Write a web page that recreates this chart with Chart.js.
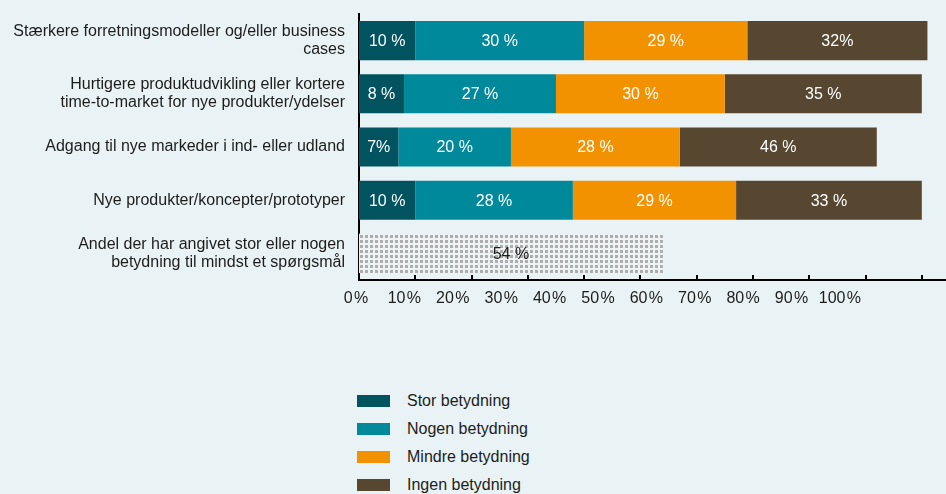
<!DOCTYPE html>
<html>
<head>
<meta charset="utf-8">
<script src="https://cdn.jsdelivr.net/npm/chart.js@4.4.1/dist/chart.umd.min.js"></script>
<style>
    body { margin: 0; background: #e9f2f5; font-family: "Liberation Sans", Arial, sans-serif; }
    #wrap { position: absolute; left: 0; top: 0; width: 946px; height: 330px; }
    #legend { position: absolute; left: 357px; top: 387px; color: #1d1d1b; font-size: 16px; }
    .legend-row { display: flex; align-items: center; height: 28px; }
    .legend-box { width: 33px; height: 12px; margin-right: 17px; }
</style>
</head>
<body>
<div id="wrap"><canvas id="barChart"></canvas></div>
<div id="legend"></div>

<script>
// chart data
const categories = [
    ['Stærkere forretningsmodeller og/eller business', 'cases'],
    ['Hurtigere produktudvikling eller kortere', 'time-to-market for nye produkter/ydelser'],
    'Adgang til nye markeder i ind- eller udland',
    'Nye produkter/koncepter/prototyper',
    ['Andel der har angivet stor eller nogen', 'betydning til mindst et spørgsmål']
];

// bar widths as drawn in the picture (row 3 is drawn 30/35 though it is labelled 28/46)
const storValues   = [10, 8, 7, 10, null];
const nogenValues  = [30, 27, 20, 28, null];
const mindreValues = [29, 30, 30, 29, null];
const ingenValues  = [32, 35, 35, 33, null];
const andelValues  = [null, null, null, null, 54];

// texts printed on the bars
const storTexts   = ['10 %', '8 %', '7%', '10 %', ''];
const nogenTexts  = ['30 %', '27 %', '20 %', '28 %', ''];
const mindreTexts = ['29 %', '30 %', '28 %', '29 %', ''];
const ingenTexts  = ['32%', '35 %', '46 %', '33 %', ''];
const andelTexts  = ['', '', '', '', '54 %'];

const xTicks = [0, 10, 20, 30, 40, 50, 60, 70, 80, 90, 100];

const fontFamily = '"Liberation Sans", Arial, sans-serif';
const textColor = '#1d1d1b';

// dotted fill for the last bar
function dotPattern() {
    const c = document.createElement('canvas');
    c.width = 5;
    c.height = 5;
    const g = c.getContext('2d');
    g.fillStyle = '#eef3f5';
    g.fillRect(0, 0, 5, 5);
    g.fillStyle = '#adadad';
    g.fillRect(0, 0, 3, 3);
    return g.createPattern(c, 'repeat');
}

// values printed in the middle of every bar
const barTextPlugin = {
    id: 'barText',
    afterDatasetsDraw(chart) {
        const ctx = chart.ctx;
        ctx.save();
        ctx.font = '16px ' + fontFamily;
        ctx.textAlign = 'center';
        ctx.textBaseline = 'middle';
        chart.data.datasets.forEach((ds, i) => {
            chart.getDatasetMeta(i).data.forEach((bar, j) => {
                const txt = ds.texts[j];
                if (!txt) return;
                const p = bar.getProps(['x', 'y', 'base'], true);
                ctx.fillStyle = ds.textColor;
                ctx.fillText(txt, (p.x + p.base) / 2, p.y + 1);
            });
        });

        // small tick marks pointing up from the x axis
        const x = chart.scales.x;
        const bottom = chart.chartArea.bottom;
        ctx.strokeStyle = '#000';
        ctx.lineWidth = 2;
        xTicks.forEach(v => {
            if (v === 0) return;
            const px = Math.round(x.getPixelForValue(v));
            ctx.beginPath();
            ctx.moveTo(px, bottom - 5);
            ctx.lineTo(px, bottom);
            ctx.stroke();
        });
        ctx.restore();
    }
};

const barChartData = {
    labels: categories,
    datasets: [
        { label: 'Stor betydning', data: storValues, texts: storTexts, backgroundColor: '#00535f', textColor: '#ffffff' },
        { label: 'Nogen betydning', data: nogenValues, texts: nogenTexts, backgroundColor: '#00899b', textColor: '#ffffff' },
        { label: 'Mindre betydning', data: mindreValues, texts: mindreTexts, backgroundColor: '#f39200', textColor: '#ffffff' },
        { label: 'Ingen betydning', data: ingenValues, texts: ingenTexts, backgroundColor: '#574731', textColor: '#ffffff' },
        { label: 'Andel', data: andelValues, texts: andelTexts, backgroundColor: dotPattern(), textColor: textColor, inLegend: false }
    ]
};

const barChartConfig = {
    type: 'bar',
    data: barChartData,
    options: {
        indexAxis: 'y',
        responsive: true,
        maintainAspectRatio: false,
        animation: false,
        categoryPercentage: 1,
        barPercentage: 0.735,
        layout: { padding: { top: 14, right: 0, bottom: 10, left: 0 } },
        plugins: {
            legend: { display: false },
            tooltip: { enabled: false }
        },
        scales: {
            y: {
                stacked: true,
                grid: { display: false, drawTicks: false },
                border: { display: true, color: '#000', width: 2 },
                ticks: {
                    color: textColor,
                    padding: 14,
                    font: { family: fontFamily, size: 16, lineHeight: 1.15 }
                },
                afterFit(scale) {
                    scale.width = 359;
                    scale.paddingTop = 0;
                    scale.paddingBottom = 0;
                }
            },
            x: {
                stacked: true,
                min: 0,
                max: 104.3,
                grid: { display: false, drawTicks: false },
                border: { display: true, color: '#000', width: 2 },
                ticks: { display: false },
                afterFit(scale) {
                    scale.height = 0;
                }
            },
            // tick labels sit closer together than the tick marks in the original
            x2: {
                position: 'bottom',
                min: 0,
                max: 121.3,
                grid: { display: false, drawTicks: false },
                border: { display: false },
                afterBuildTicks(scale) {
                    scale.ticks = xTicks.map(v => ({ value: v }));
                },
                afterFit(scale) {
                    scale.height = 40;
                    scale.paddingLeft = 0;
                    scale.paddingRight = 0;
                },
                ticks: {
                    autoSkip: false,
                    maxRotation: 0,
                    padding: 9,
                    labelOffset: -3,
                    color: textColor,
                    font: { family: fontFamily, size: 16 },
                    callback: value => value + '\u200A%'
                }
            }
        }
    },
    plugins: [barTextPlugin]
};

const chart = new Chart(document.getElementById('barChart'), barChartConfig);

// legend, one row per series
const legend = document.getElementById('legend');
legend.innerHTML = chart.data.datasets
    .filter(ds => ds.inLegend !== false)
    .map(ds => `
        <div class="legend-row">
            <span class="legend-box" style="background:${ds.backgroundColor}"></span>
            <span>${ds.label}</span>
        </div>
    `).join('');
</script>
</body>
</html>
